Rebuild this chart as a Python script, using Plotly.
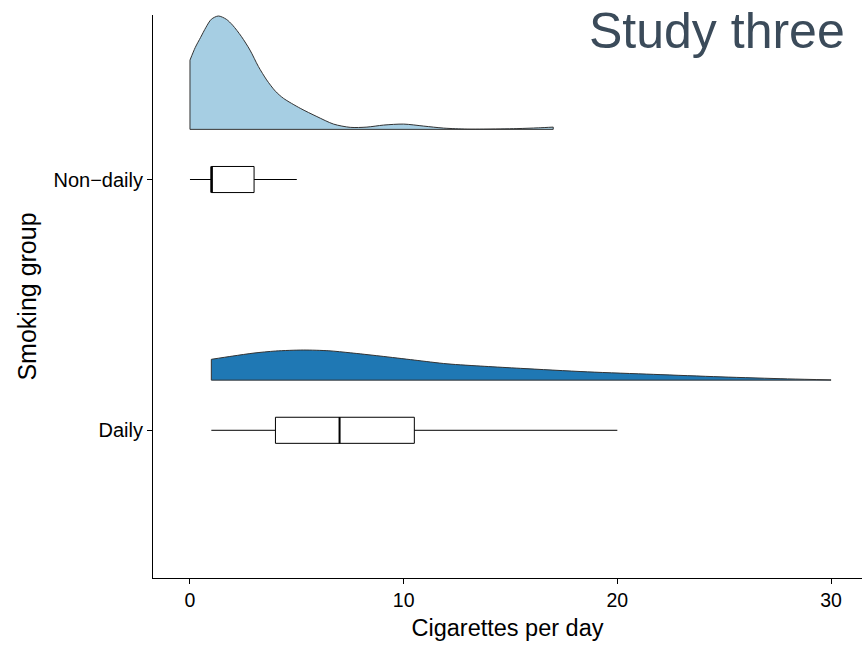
import plotly.graph_objects as go

# ---- data ----
groups = ["Daily", "Non-daily"]
group_labels = ["Daily", "Non\u2212daily"]
group_pos = [1, 2]

# density curves (x in cigarettes/day, height in y-axis units)
nd_x = [0, 0.25, 0.5, 0.75, 1.0, 1.33, 1.7, 2.0, 2.4, 2.81, 3.2, 3.59, 4.0, 4.37,
        5.16, 5.94, 6.72, 7.5, 8.28, 9.06, 10.0, 10.94, 11.87, 12.97, 13.75, 15.3, 16.3, 17.0]
nd_h = [0.276, 0.327, 0.367, 0.407, 0.439, 0.452, 0.439, 0.415, 0.371, 0.316, 0.251, 0.197,
        0.152, 0.124, 0.084, 0.051, 0.021, 0.008, 0.009, 0.017, 0.021, 0.013, 0.005, 0.001,
        0.001, 0.003, 0.006, 0.009]
d_x = [1, 2, 3, 4, 5.3, 6.5, 7.5, 8.9, 10.5, 12.03, 13.8, 15.47, 18.6, 21.7, 24.85, 27.97, 30]
d_h = [0.083, 0.096, 0.108, 0.116, 0.120, 0.117, 0.109, 0.096, 0.080, 0.065, 0.055, 0.047,
       0.033, 0.023, 0.013, 0.005, 0.001]

# box statistics: [Daily, Non-daily]
lower_whisker = [1, 0]
q1 = [4, 1]
median = [7, 1]
q3 = [10.5, 3]
upper_whisker = [20, 5]

fill_colors = ["#1F78B4", "#A6CEE3"]
x_ticks = [0, 10, 20, 30]

nudge = 0.2
box_w = 0.104

fig = go.Figure()

dens = [(d_x, d_h), (nd_x, nd_h)]
for i, (xs, hs) in enumerate(dens):
    base = group_pos[i] + nudge
    # baseline + left edge
    fig.add_trace(go.Scatter(
        x=[xs[0], xs[0], xs[-1], xs[-1]],
        y=[base + hs[0], base, base, base + hs[-1]],
        mode="lines", line=dict(color="#333333", width=1),
        hoverinfo="skip", showlegend=False))
    fig.add_trace(go.Scatter(
        x=xs, y=[base + h for h in hs],
        mode="lines", line=dict(color="#333333", width=1, shape="spline", smoothing=0.8),
        fill="tonexty", fillcolor=fill_colors[i],
        hoverinfo="skip", showlegend=False))

for i in range(2):
    fig.add_trace(go.Box(
        y=[group_pos[i]], q1=[q1[i]], median=[median[i]], q3=[q3[i]],
        lowerfence=[lower_whisker[i]], upperfence=[upper_whisker[i]],
        orientation="h", width=box_w, whiskerwidth=0,
        fillcolor="white", line=dict(color="black", width=1),
        boxpoints=False, hoverinfo="skip", showlegend=False))
    fig.add_trace(go.Scatter(
        x=[median[i], median[i]],
        y=[group_pos[i] - box_w / 2, group_pos[i] + box_w / 2],
        mode="lines", line=dict(color="black", width=2),
        hoverinfo="skip", showlegend=False))

font_family = "Liberation Sans, Arial, sans-serif"

fig.update_layout(
    width=864, height=647,
    margin=dict(l=153, r=2, t=15, b=69),
    plot_bgcolor="white", paper_bgcolor="white",
    font=dict(family=font_family, color="black"),
    xaxis=dict(
        range=[-1.73, 31.45], tickvals=x_ticks, ticks="outside", ticklen=5,
        tickcolor="black", showline=True, linecolor="black", linewidth=1,
        showgrid=False, zeroline=False, tickfont=dict(size=19.5, color="black"),
        title=dict(text="Cigarettes per day", font=dict(size=23.5, color="black"), standoff=9),
    ),
    yaxis=dict(
        range=[0.411, 2.656], tickvals=group_pos, ticktext=group_labels,
        ticks="outside", ticklen=5, tickcolor="black", showline=True,
        linecolor="black", linewidth=1, showgrid=False, zeroline=False,
        tickfont=dict(size=20, color="black"),
        title=dict(text="Smoking group", font=dict(size=25, color="black"), standoff=9),
    ),
    annotations=[dict(
        text="Study three", xref="paper", yref="paper", x=0.979, y=0.972,
        xanchor="right", yanchor="middle", showarrow=False,
        font=dict(size=50, color="#3B4B5A", family=font_family))],
)

fig.write_html("out.html")
